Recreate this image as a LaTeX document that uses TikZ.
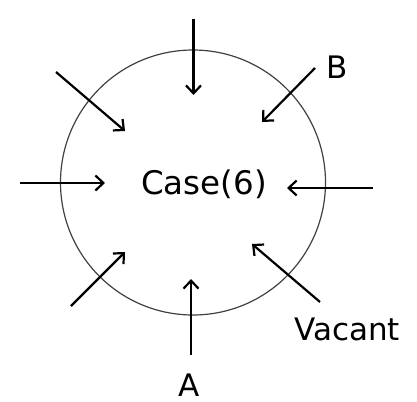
\documentclass[tikz,border=0pt]{standalone}
\usepackage{fontspec}
\setmainfont{DejaVu Sans}
\usetikzlibrary{arrows.meta}
\begin{document}
\begin{tikzpicture}[x=1pt,y=-1pt,
  arr/.style={line width=2.2pt,-{Straight Barb[length=8pt,width=15pt,line width=2.2pt]}},
  lbl/.style={font=\fontsize{31}{36}\selectfont,inner sep=0pt,anchor=base}]
\useasboundingbox (0,0) rectangle (417,401);
\node[draw=black!75,line width=1.2pt,circle,minimum size=265pt,inner sep=0pt] (ring) at (193,182.5) {};
\node[lbl,font=\fontsize{32.5}{38}\selectfont] (case) at (204,194.5) {Case(6)};
\node[lbl] (b) at (337,79) {B};
\node[lbl] (vac) at (347,340) {Vacant};
\node[lbl] (a) at (189,396) {A};
% arrow coordinates
\coordinate (t1) at (193.5,19);  \coordinate (t2) at (193.5,95);
\coordinate (tl1) at (56,72);    \coordinate (tl2) at (125,131);
\coordinate (l1) at (20,183);    \coordinate (l2) at (105,183);
\coordinate (r1) at (373,188);   \coordinate (r2) at (287,188);
\coordinate (b1) at (315,68);    \coordinate (b2) at (262,122);
\coordinate (bl1) at (71,306);   \coordinate (bl2) at (125,252);
\coordinate (bo1) at (191,355);  \coordinate (bo2) at (191,279);
\coordinate (v1) at (320,302);   \coordinate (v2) at (252,244);
\draw[arr] (t1) -- (t2);
\draw[arr] (tl1) -- (tl2);
\draw[arr] (l1) -- (l2);
\draw[arr] (r1) -- (r2);
\draw[arr] (b1) -- (b2);
\draw[arr] (bl1) -- (bl2);
\draw[arr] (bo1) -- (bo2);
\draw[arr] (v1) -- (v2);
\end{tikzpicture}
\end{document}
